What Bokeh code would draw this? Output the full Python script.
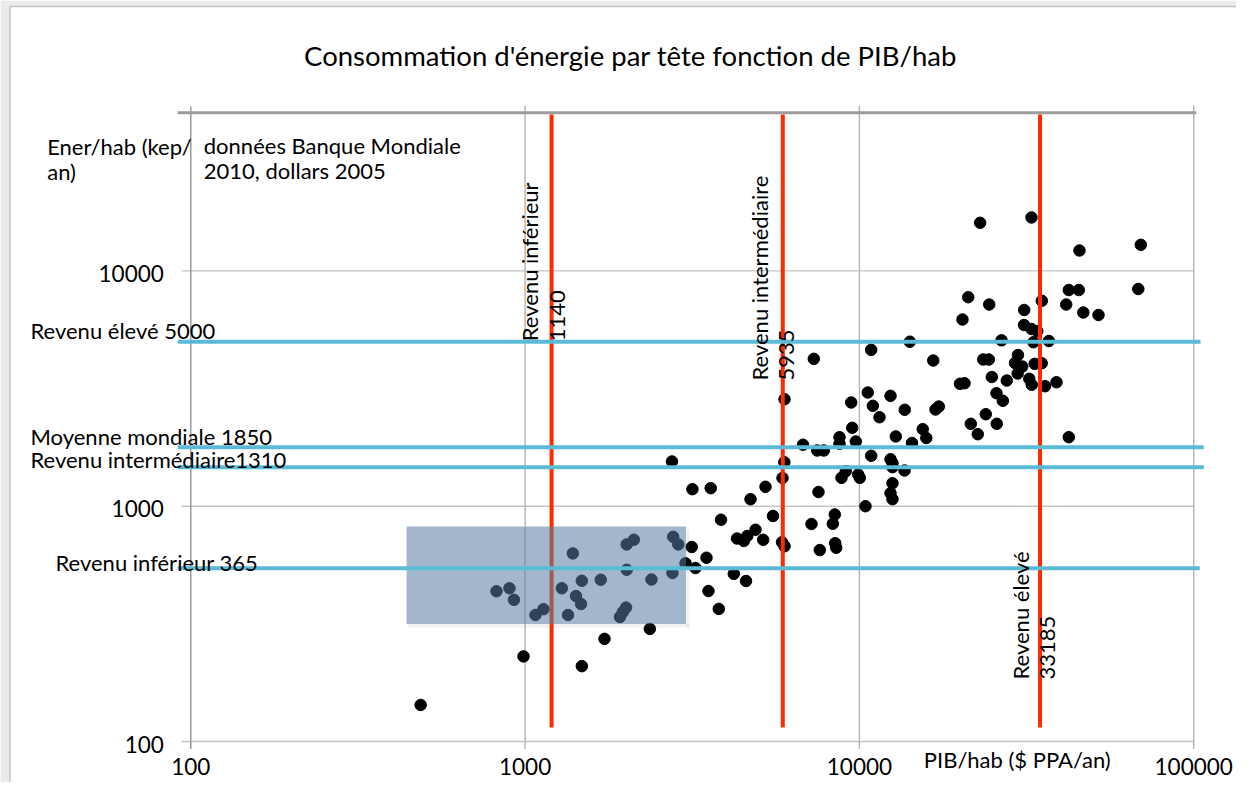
import numpy as np
from bokeh.plotting import figure
from bokeh.models import Range1d
from bokeh.core.properties import value
from bokeh.embed import file_html
from bokeh.resources import INLINE

# ---------------- data ----------------
gdp = [487, 821, 898, 926, 989, 1074, 1135, 1288, 1344, 1389, 1420, 1470, 1478, 1478,
       1684, 1728, 1922, 1960, 2004, 2013, 2115, 2014, 2361, 2388, 2773, 2871, 2760,
       3019, 3151, 3233, 3488, 3536, 3796, 2750, 3166, 3591, 3855, 4724, 5237, 5515,
       4210, 4580, 4304, 4511, 4618, 4890, 5155, 5869, 5971, 5963, 5888, 6781, 7478,
       7825, 7544, 7189, 7612, 10847, 14154, 7304, 16630, 19990, 5971, 10595, 12390,
       9452, 10970, 13664, 11484, 16893, 17280, 15470, 15856, 9517, 8720, 9755, 12850,
       14365, 8720, 10847, 12390, 12560, 12560, 13645, 9105, 8841, 9917, 10028, 12560,
       12390, 12560, 10428, 8442, 8326, 8465, 8524, 22975, 32717, 45530, 69470, 21160,
       24450, 20340, 31120, 35130, 42300, 45310, 68280, 41550, 46750, 51910, 31080,
       32717, 34030, 26620, 33170, 36870, 23460, 24390, 29810, 29210, 30690, 33450,
       35100, 29750, 24890, 27600, 32230, 32770, 35920, 38870, 20630, 25710, 26860,
       21540, 25760, 22600, 23880, 42300]
energy = [143, 435, 448, 400, 230, 345, 365, 448, 345, 630, 415, 384, 482, 209,
          487, 273, 338, 355, 371, 688, 720, 537, 301, 488, 741, 688, 520,
          572, 671, 546, 604, 436, 366, 1549, 1181, 1193, 876, 1071, 1209, 909,
          516, 481, 729, 712, 747, 794, 720, 703, 676, 1538, 1318, 1825, 1725,
          1725, 1149, 840, 651, 4620, 5001, 4230, 4161, 3313, 2849, 3042, 2945,
          2759, 2671, 2569, 2389, 2576, 2652, 2125, 1949, 2154, 1965, 1884, 1979,
          1856, 1842, 1638, 1584, 1523, 1465, 1418, 1408, 1320, 1364, 1320, 1252,
          1136, 1071, 1000, 922, 842, 696, 666, 16010, 16870, 12210, 12910, 7731,
          7197, 6215, 6822, 7464, 8295, 8295, 8377, 7197, 6656, 6495, 5890,
          5663, 5553, 5070, 4977, 5036, 4202, 4202, 4391, 4060, 3924, 4028,
          4052, 3664, 3541, 3421, 3478, 3281, 3236, 3365, 3332, 3021, 2805,
          2240, 2240, 2023, 2460, 1965]

income_x = [1200, 5900, 34700]                      # vertical red lines (PIB/hab)
income_names = ["Revenu inférieur", "Revenu intermédiaire", "Revenu élevé"]
income_values = ["1140", "5935", "33185"]

energy_levels = [5000, 1780, 1465, 545]             # horizontal blue lines (kep/an)
energy_names = ["Revenu élevé 5000", "Moyenne mondiale 1850",
                "Revenu intermédiaire1310", "Revenu inférieur 365"]

box_x = [442, 3030]
box_y = [316, 820]

x_ticks = [100, 1000, 10000, 100000]
y_ticks = [100, 1000, 10000]
x_tick_labels = ["100", "1000", "10000", "100000"]
y_tick_labels = ["100", "1000", "10000"]

title = "Consommation d'énergie par tête fonction de PIB/hab"
x_label = "PIB/hab ($ PPA/an)"
y_label = ["Ener/hab (kep/", "an)"]
note = ["données Banque Mondiale", "2010, dollars 2005"]

# ---------------- layout helpers (picture pixels -> data) ----------------
W, H = 1236, 782
X0, XDEC = 190.3, 334.3
Y0, YDEC = 741.0, 235.3


def X(px):
    return 10 ** (2 + (px - X0) / XDEC)


def Y(py):
    return 10 ** (2 + (Y0 - py) / YDEC)


FONT = value("Lato")

p = figure(width=W, height=H,
           x_range=Range1d(X(0), X(W)), y_range=Range1d(Y(H), Y(0)),
           x_axis_type="log", y_axis_type="log",
           x_axis_location=None, y_axis_location=None,
           toolbar_location=None, output_backend="svg",
           min_border=0, outline_line_color=None)
p.grid.visible = False
p.background_fill_color = "white"
p.border_fill_color = "white"

# surrounding window strip and chart-area border
p.quad(left=[X(0)], right=[X(9)], bottom=[Y(H)], top=[Y(0)],
       fill_color="#ebebeb", line_color=None)
p.quad(left=[X(0)], right=[X(W)], bottom=[Y(5.5)], top=[Y(0)],
       fill_color="#ebebeb", line_color=None)
p.segment(x0=[X(9.5), X(9.5)], y0=[Y(6), Y(6)], x1=[X(9.5), X(W)], y1=[Y(H), Y(6)],
          line_color="#c4c4c4", line_width=1.5)

# horizontal gridlines (with tick stubs to the left)
p.segment(x0=[X(181)] * len(y_ticks), y0=y_ticks, x1=[x_ticks[-1]] * len(y_ticks),
          y1=y_ticks, line_color="#c4c4c4", line_width=1.4)
# vertical gridlines (with tick stubs below)
p.segment(x0=x_ticks[1:], y0=[Y(105)] * 3, x1=x_ticks[1:], y1=[Y(748.5)] * 3,
          line_color="#b4b4b4", line_width=1.4)
# y axis
p.segment(x0=[x_ticks[0]], y0=[Y(106)], x1=[x_ticks[0]], y1=[Y(748.5)],
          line_color="#8c8c8c", line_width=1.3)
# top border of plot area
p.segment(x0=[X(177.3)], y0=[Y(112.3)], x1=[X(1195.7)], y1=[Y(112.3)],
          line_color="#9c9c9c", line_width=3)

# data points
p.scatter(x=gdp, y=energy, size=11.5, fill_color="black", line_color="black")

# red income thresholds
p.segment(x0=income_x, y0=[Y(727)] * 3, x1=income_x, y1=[Y(114)] * 3,
          line_color="#ff2a00", line_width=4)

# shaded box (with light shadow)
p.quad(left=[X(408)], right=[X(689)], bottom=[Y(627)], top=[Y(623.3)],
       fill_color="#808080", fill_alpha=0.1, line_color=None)
p.quad(left=[X(685.7)], right=[X(689)], bottom=[Y(627)], top=[Y(529)],
       fill_color="#808080", fill_alpha=0.1, line_color=None)
p.quad(left=[box_x[0]], right=[box_x[1]], bottom=[box_y[0]], top=[box_y[1]],
       fill_color="#557ca0", fill_alpha=0.55, line_color=None)

# blue energy levels
p.segment(x0=[X(177.3)] * 4, y0=energy_levels,
          x1=[X(1200), X(1203.3), X(1203.3), X(1199.3)], y1=energy_levels,
          line_color="#5bbad5", line_width=4)

# ---------------- texts ----------------
LBL = "22px"
common = dict(text_font=FONT, text_color="black", text_baseline="alphabetic")

p.text(x=[X(630)], y=[Y(55)], text=[title], text_align="center",
       text_font_size="27.5px", **common)

p.text(x=[X(46.7), X(46.7)], y=[Y(145.5), Y(171)], text=y_label,
       text_align="left", text_font_size=LBL, **common)
p.text(x=[X(203.3), X(203.3)], y=[Y(144.5), Y(170)], text=note,
       text_align="left", text_font_size=LBL, **common)

p.text(x=[X(30), X(30), X(30), X(55)],
       y=[Y(330.3), Y(435.7), Y(459), Y(562.3)],
       text=energy_names, text_align="left", text_font_size=LBL, **common)

p.text(x=[X(529.2), X(759), X(1019.8)], y=[Y(340.7), Y(380), Y(679)],
       text=income_names, angle=np.pi / 2, text_align="left",
       text_font_size=LBL, **common)
p.text(x=[X(556.5), X(785.8), X(1046.5)], y=[Y(340.7), Y(380), Y(679)],
       text=income_values, angle=np.pi / 2, text_align="left",
       text_font_size=LBL, **common)

p.text(x=[X(923.3)], y=[Y(759)], text=[x_label], text_align="left",
       text_font_size=LBL, **common)

# tick labels
p.text(x=x_ticks, y=[Y(766)] * len(x_ticks), text=x_tick_labels,
       text_align="center", text_font_size="22.5px", **common)
shift = 10 ** (-2.5 / YDEC)
p.text(x=[X(163.3)] * len(y_ticks), y=[v * shift for v in y_ticks],
       text=y_tick_labels, text_align="right", text_font_size="22.5px", **common)

html = file_html(p, INLINE)
open("out.html", "w").write(html)
